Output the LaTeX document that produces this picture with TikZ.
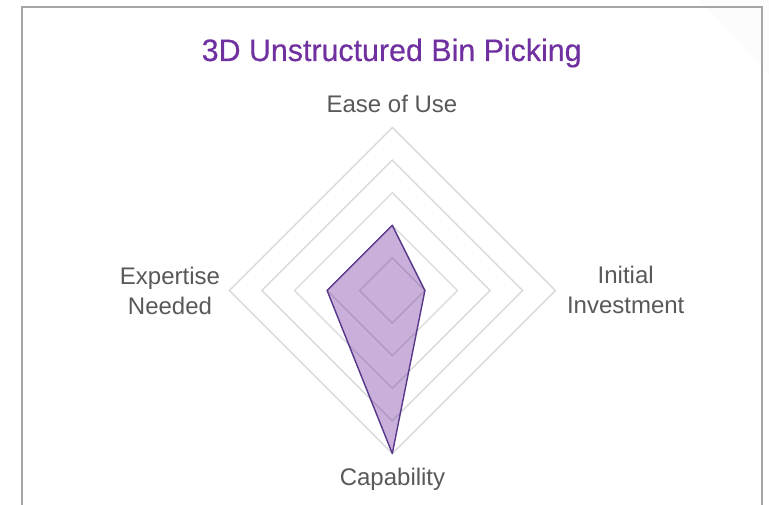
\documentclass[tikz,border=0pt]{standalone}
\usepackage{fontspec}
\usetikzlibrary{calc}
\setmainfont{Liberation Sans}
\newfontfamily\titlefont[FakeStretch=0.98,FakeBold=0.4]{Liberation Sans}
\definecolor{titlepurple}{HTML}{7030A0}
\definecolor{labelgray}{HTML}{595959}
\definecolor{gridgray}{HTML}{D9D9D9}
\definecolor{dataline}{HTML}{5B3A8E}
\definecolor{datafill}{HTML}{7030A0}
\definecolor{bordergray}{HTML}{A6A6A6}
\begin{document}
\begin{tikzpicture}[x=1pt,y=-1pt,
  gridline/.style={draw=gridgray,line width=1.4pt},
  axislabel/.style={text=labelgray,font=\fontsize{24}{30}\selectfont,anchor=base,inner sep=0pt},
  titlelabel/.style={text=titlepurple,font=\titlefont\fontsize{31}{36}\selectfont,anchor=base,inner sep=0pt},
  datapoly/.style={draw=dataline,line width=1.4pt,fill=datafill,fill opacity=0.38,line join=round}]
\useasboundingbox (0,0) rectangle (769,505);
\fill[white] (0,0) rectangle (769,505);
\fill[black!1] (700,0) -- (769,0) -- (769,75) -- cycle;
\draw[bordergray,line width=1.3pt] (22,7) rectangle (762,530);
% grid
\coordinate (c) at (392.3,290.5);
\foreach \k in {1,...,5}{
  \draw[gridline] ($(c)+(0,-32.6*\k)$) -- ($(c)+(32.6*\k,0)$) -- ($(c)+(0,32.6*\k)$) -- ($(c)+(-32.6*\k,0)$) -- cycle;
}
% data
\coordinate (ease) at ($(c)+(0,-65.2)$);
\coordinate (inv) at ($(c)+(32.6,0)$);
\coordinate (capab) at ($(c)+(0,163)$);
\coordinate (expn) at ($(c)+(-65.2,0)$);
\path[datapoly] (ease) -- (inv) -- (capab) -- (expn) -- cycle;
% texts
\node[titlelabel] (title) at (391.7,61) {3D Unstructured Bin Picking};
\node[axislabel] (lease) at (392,113) {Ease of Use};
\node[axislabel] (lexp1) at (170,285) {Expertise};
\node[axislabel] (lexp2) at (170,315) {Needed};
\node[axislabel] (linv1) at (625.7,284) {Initial};
\node[axislabel] (linv2) at (625.7,314) {Investment};
\node[axislabel] (lcap) at (392.5,485) {Capability};
\end{tikzpicture}
\end{document}
